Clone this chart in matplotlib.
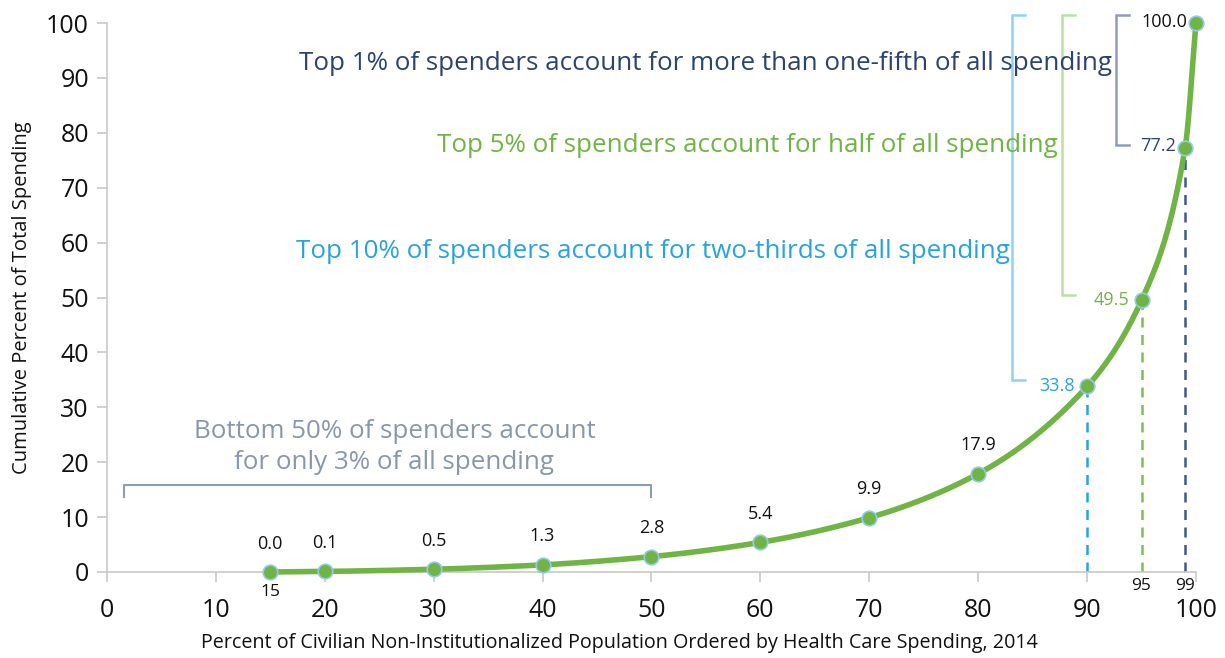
import numpy as np
import matplotlib
matplotlib.use("Agg")
import matplotlib.pyplot as plt

plt.rcParams['font.family'] = ['Open Sans', 'DejaVu Sans']

# ---- data ----
pop_pct = [15, 20, 30, 40, 50, 60, 70, 80, 90, 95, 99, 100]
cum_spend = [0.0, 0.1, 0.5, 1.3, 2.8, 5.4, 9.9, 17.9, 33.8, 49.5, 77.2, 100.0]
major_ticks = [0, 10, 20, 30, 40, 50, 60, 70, 80, 90, 100]
extra_ticks = [15, 95, 99]
y_ticks = [0, 10, 20, 30, 40, 50, 60, 70, 80, 90, 100]

GREEN = '#6fb444'
BLUE = '#29a3dd'
NAVY = '#2c4370'
GRAY_TXT = '#8a97aa'


def monotone_curve(x, y, n=60):
    x = np.asarray(x, float); y = np.asarray(y, float)
    h = np.diff(x); d = np.diff(y) / h
    m = np.zeros_like(x)
    m[0] = d[0]; m[-1] = d[-1]
    for i in range(1, len(x) - 1):
        if d[i - 1] * d[i] <= 0:
            m[i] = 0
        else:
            w1 = 2 * h[i] + h[i - 1]; w2 = h[i] + 2 * h[i - 1]
            m[i] = (w1 + w2) / (w1 / d[i - 1] + w2 / d[i])
    xs, ys = [], []
    for i in range(len(x) - 1):
        t = np.linspace(0, 1, n, endpoint=False)
        h00 = 2 * t**3 - 3 * t**2 + 1; h10 = t**3 - 2 * t**2 + t
        h01 = -2 * t**3 + 3 * t**2; h11 = t**3 - t**2
        xs.append(x[i] + t * h[i])
        ys.append(h00 * y[i] + h10 * h[i] * m[i] + h01 * y[i + 1] + h11 * h[i] * m[i + 1])
    xs.append([x[-1]]); ys.append([y[-1]])
    return np.concatenate(xs), np.concatenate(ys)


fig = plt.figure(figsize=(12.25, 6.58), dpi=100)
ax = fig.add_axes([0.0873, 0.1307, 0.8890, 0.8343])
ax.set_xlim(0, 100)
ax.set_ylim(0, 100)

for s in ['top', 'right']:
    ax.spines[s].set_visible(False)
for s in ['left', 'bottom']:
    ax.spines[s].set_color('#c8c8c8')
    ax.spines[s].set_linewidth(1.2)
ax.tick_params(axis='both', colors='#c8c8c8', labelcolor='#111111', labelsize=18,
               length=7, width=1.2)
ax.set_xticks(major_ticks)
ax.set_yticks(y_ticks)
ax.tick_params(axis='x', pad=12)
ax.tick_params(axis='y', pad=6)

# dashed verticals
for xv, yv, c in [(90, 33.8, BLUE), (95, 49.5, '#7cbf52'), (99, 77.2, '#3d5a85')]:
    ax.plot([xv, xv], [0, yv], ls=(0, (4, 3)), color=c, lw=1.8, zorder=2)

xs, ys = monotone_curve(pop_pct, cum_spend)
ax.plot(xs, ys, color=GREEN, lw=4, zorder=3, solid_capstyle='round', clip_on=False)
ax.scatter(pop_pct, cum_spend, s=110, color=GREEN, edgecolors='#8fcbe8', linewidths=1.2,
           zorder=4, clip_on=False)

# point labels
for xv, yv in zip(pop_pct[:8], cum_spend[:8]):
    ax.annotate(f'{yv:.1f}', (xv, yv), xytext=(0, 14), textcoords='offset points',
                ha='center', va='bottom', fontsize=13, color='#111111')
ax.text(88.9, 33.8, '33.8', ha='right', va='center', fontsize=13, color=BLUE)
ax.text(93.9, 49.5, '49.5', ha='right', va='center', fontsize=13, color=GREEN)
ax.text(98.2, 77.6, '77.2', ha='right', va='center', fontsize=13, color=NAVY)
ax.text(99.2, 100.2, '100.0', ha='right', va='center', fontsize=13, color='#111111')

# extra tick labels
for xv in extra_ticks:
    dy = -9 if xv < 50 else -4.5
    ax.annotate(str(xv), (xv, 0), xytext=(0, dy), textcoords='offset points',
                ha='center', va='top', fontsize=12.5, color='#111111', annotation_clip=False)

# brackets
def bracket(x, y0, y1, w, c):
    ax.plot([x + w, x, x, x + w], [y1, y1, y0, y0], color=c, lw=1.8, clip_on=False,
            solid_joinstyle='miter')

bracket(83.1, 35.0, 101.5, 1.2, '#8fd2f2')
bracket(87.7, 50.5, 101.5, 1.2, '#bcdfa6')
bracket(92.65, 77.8, 101.5, 1.2, '#8d9db8')

ax.plot([1.56, 1.56, 49.95, 49.95], [13.7, 15.85, 15.85, 13.7], color='#8d9db8', lw=1.5,
        clip_on=False)

# annotations
ANN = 18.7
ax.text(92.25, 92.7, 'Top 1% of spenders account for more than one-fifth of all spending',
        ha='right', va='center', fontsize=ANN, color=NAVY)
ax.text(87.3, 77.6, 'Top 5% of spenders account for half of all spending',
        ha='right', va='center', fontsize=ANN, color=GREEN)
ax.text(82.9, 58.4, 'Top 10% of spenders account for two-thirds of all spending',
        ha='right', va='center', fontsize=ANN, color=BLUE)
ax.text(26.4, 22.8, 'Bottom 50% of spenders account\nfor only 3% of all spending',
        ha='center', va='center', fontsize=ANN, color=GRAY_TXT, linespacing=1.35)

ax.set_ylabel('Cumulative Percent of Total Spending', fontsize=14.5, color='#111111',
              labelpad=10)
ax.set_xlabel('Percent of Civilian Non-Institutionalized Population Ordered by Health Care Spending, 2014',
              fontsize=14.2, color='#111111', labelpad=10)
ax.xaxis.set_label_coords(0.471, -0.112)

fig.savefig('out.png', dpi=100)
